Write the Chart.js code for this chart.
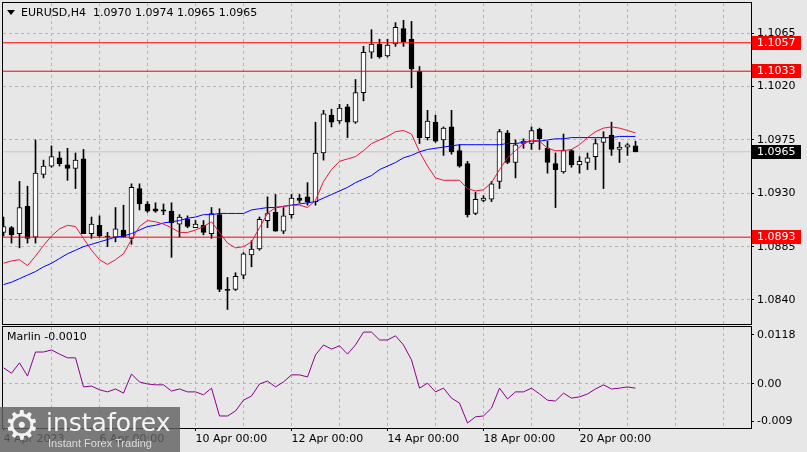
<!DOCTYPE html>
<html><head><meta charset="utf-8">
<script src="https://cdn.jsdelivr.net/npm/chart.js@4.4.0/dist/chart.umd.min.js"></script>
<style>
html,body{margin:0;padding:0;background:#e7e7e7;}
#wrap{position:relative;width:807px;height:452px;overflow:hidden;background:#e7e7e7;font-family:"DejaVu Sans",sans-serif;}
canvas{position:absolute;left:0;}
#c1{top:0;}
#c2{top:326px;}
#title{position:absolute;left:21px;top:6px;font-size:11px;line-height:13px;color:#000;white-space:pre;}
#tri{position:absolute;left:7px;top:10px;width:0;height:0;border-left:4px solid transparent;border-right:4px solid transparent;border-top:5px solid #000;}
#mlabel{position:absolute;left:7px;top:330px;font-size:11px;line-height:13px;color:#000;white-space:pre;}
#wm{position:absolute;left:0;top:407px;width:180px;height:45px;background:rgba(98,98,98,0.82);}
#wmGear{position:absolute;left:4px;top:-4px;font-size:40px;line-height:44px;color:#f2f2f2;}
#wmName{position:absolute;left:46px;top:1px;font-size:25px;line-height:30px;color:#f4f4f4;letter-spacing:0px;}
#wmSub{position:absolute;left:48px;top:30px;font-family:"Liberation Sans",sans-serif;font-size:11px;line-height:13px;color:#dcdcdc;}
</style></head>
<body>
<div id="wrap">
  <canvas id="c1" width="807" height="326"></canvas>
  <canvas id="c2" width="807" height="126"></canvas>
  <div id="tri"></div>
  <div id="title"></div>
  <div id="mlabel"></div>
  <div id="wm"><div id="wmGear">⚙</div><div id="wmName">instaforex</div><div id="wmSub">Instant Forex Trading</div></div>
</div>
<script>
// ---------- data ----------
const symbol = "EURUSD,H4";
const opens = [1.0897,1.0901,1.0896,1.0919,1.0893,1.0946,1.0953,1.0960,1.0954,1.0951,
1.0959,1.0896,1.0903,1.0894,1.0893,1.0899,1.0892,1.0934,1.0921,1.0917,
1.0916,1.0915,1.0904,1.0908,1.0901,1.0903,1.0896,1.0912,1.0849,1.0849,
1.0861,1.0878,1.0883,1.0907,1.0914,1.0898,1.0912,1.0926,1.0927,1.0923,
1.0964,1.0996,1.0991,1.1003,1.0990,1.1015,1.1049,1.1056,1.1046,1.1056,
1.1069,1.1060,1.1033,1.0977,1.0990,1.0975,1.0986,1.0966,1.0955,1.0913,
1.0924,1.0925,1.0940,1.0981,1.0956,1.0972,1.0972,1.0984,1.0968,1.0955,
1.0948,1.0966,1.0954,1.0956,1.0961,1.0973,1.0979,1.0967,1.0969,1.0970];
const highs = [1.0910,1.0902,1.0940,1.0936,1.0975,1.0958,1.0970,1.0965,1.0968,1.0964,
1.0967,1.0910,1.0911,1.0897,1.0918,1.0920,1.0938,1.0938,1.0923,1.0922,
1.0921,1.0922,1.0912,1.0911,1.0907,1.0907,1.0918,1.0917,1.0859,1.0863,
1.0880,1.0890,1.0910,1.0927,1.0929,1.0918,1.0929,1.0929,1.0939,1.0990,
1.1000,1.1001,1.1005,1.1005,1.1026,1.1054,1.1068,1.1060,1.1060,1.1074,
1.1076,1.1075,1.1037,1.1000,1.0996,1.0986,1.1000,1.0971,1.0957,1.0931,
1.0928,1.0940,1.0984,1.0983,1.0975,1.0976,1.0986,1.0985,1.0974,1.0964,
1.0980,1.0967,1.0961,1.0964,1.0976,1.0982,1.0990,1.0973,1.0972,1.0974];
const lows = [1.0894,1.0888,1.0884,1.0888,1.0888,1.0943,1.0952,1.0953,1.0941,1.0934,
1.0896,1.0892,1.0893,1.0885,1.0889,1.0893,1.0887,1.0916,1.0914,1.0914,
1.0912,1.0876,1.0893,1.0901,1.0901,1.0895,1.0892,1.0847,1.0832,1.0848,
1.0858,1.0868,1.0882,1.0901,1.0898,1.0896,1.0909,1.0922,1.0920,1.0920,
1.0958,1.0986,1.0989,1.0977,1.0989,1.1008,1.1044,1.1044,1.1045,1.1054,
1.1054,1.1019,1.0972,1.0975,1.0973,1.0962,1.0963,1.0952,1.0910,1.0912,
1.0923,1.0923,1.0934,1.0955,1.0943,1.0968,1.0967,1.0967,1.0947,1.0918,
1.0947,1.0952,1.0947,1.0950,1.0950,1.0934,1.0962,1.0956,1.0962,1.0965];
const closes = [1.0902,1.0895,1.0918,1.0892,1.0947,1.0953,1.0961,1.0955,1.0951,1.0958,
1.0896,1.0904,1.0894,1.0893,1.0900,1.0893,1.0935,1.0921,1.0915,1.0915,
1.0915,1.0905,1.0910,1.0902,1.0904,1.0897,1.0913,1.0849,1.0848,1.0860,
1.0879,1.0883,1.0908,1.0913,1.0898,1.0911,1.0926,1.0924,1.0923,1.0964,
1.0997,1.0990,1.1002,1.0990,1.1015,1.1049,1.1056,1.1045,1.1055,1.1070,
1.1058,1.1035,1.0977,1.0991,1.0974,1.0985,1.0965,1.0953,1.0912,1.0925,
1.0926,1.0938,1.0982,1.0956,1.0971,1.0974,1.0983,1.0976,1.0956,1.0950,
1.0966,1.0954,1.0957,1.0960,1.0972,1.0977,1.0967,1.0969,1.0971,1.0965];
const maFast = [1.0871,1.0873,1.0874,1.0869,1.0877,1.0886,1.0894,1.0900,1.0903,1.0902,
1.0892,1.0882,1.0874,1.0870,1.0874,1.0879,1.0891,1.0902,1.0907,1.0906,
1.0904,1.0901,1.0897,1.0897,1.0899,1.0902,1.0906,1.0897,1.0888,1.0884,
1.0885,1.0889,1.0901,1.0913,1.0918,1.0919,1.0920,1.0920,1.0918,1.0924,
1.0940,1.0950,1.0957,1.0959,1.0961,1.0966,1.0972,1.0975,1.0978,1.0982,
1.0983,1.0980,1.0965,1.0953,1.0943,1.0941,1.0941,1.0941,1.0934,1.0932,
1.0933,1.0939,1.0950,1.0960,1.0966,1.0972,1.0975,1.0974,1.0968,1.0966,
1.0966,1.0967,1.0971,1.0977,1.0982,1.0985,1.0986,1.0985,1.0983,1.0981];
const maSlow = [1.0853,1.0855,1.0858,1.0861,1.0864,1.0868,1.0871,1.0875,1.0879,1.0882,
1.0885,1.0887,1.0889,1.0891,1.0893,1.0894,1.0896,1.0899,1.0902,1.0903,
1.0905,1.0906,1.0907,1.0909,1.0910,1.0912,1.0912,1.0913,1.0913,1.0913,
1.0913,1.0916,1.0917,1.0918,1.0918,1.0919,1.0920,1.0921,1.0922,1.0923,
1.0926,1.0929,1.0932,1.0935,1.0939,1.0942,1.0945,1.0950,1.0953,1.0956,
1.0960,1.0962,1.0965,1.0967,1.0968,1.0969,1.0970,1.0971,1.0971,1.0971,
1.0971,1.0971,1.0971,1.0972,1.0972,1.0973,1.0974,1.0974,1.0975,1.0976,
1.0976,1.0977,1.0977,1.0977,1.0977,1.0977,1.0977,1.0978,1.0978,1.0978];
const marlin = [0.0039,0.0026,0.0051,0.0019,0.0077,0.0077,0.0082,0.0072,0.0063,0.0063,
-0.0007,-0.0005,-0.0014,-0.0019,-0.0012,-0.0022,0.0024,0.0005,0.0000,-0.0002,
-0.0002,-0.0017,-0.0012,-0.0019,-0.0019,-0.0026,-0.0010,-0.0077,-0.0077,-0.0065,
-0.0039,-0.0029,0.0000,0.0007,-0.0007,0.0005,0.0022,0.0022,0.0017,0.0070,
0.0094,0.0084,0.0092,0.0072,0.0094,0.0125,0.0125,0.0106,0.0106,0.0116,
0.0094,0.0058,-0.0010,0.0002,-0.0019,-0.0010,-0.0034,-0.0046,-0.0094,-0.0079,
-0.0077,-0.0058,-0.0010,-0.0036,-0.0019,-0.0019,-0.0010,-0.0024,-0.0039,-0.0041,
-0.0022,-0.0034,-0.0031,-0.0024,-0.0012,-0.0002,-0.0012,-0.0010,-0.0007,-0.0010];
const levels = [1.1057, 1.1033, 1.0893];
const bidPrice = 1.0965;
const priceTicks = [1.1065, 1.1020, 1.0975, 1.0930, 1.0885, 1.0840];
const marlinTicks = [0.0118, 0, -0.009];
const marlinTickLabels = ["0.0118", "0.00", "-0.009"];
const timeTickBars = [0, 12, 24, 36, 48, 60, 72];
const timeTickLabels = ["4 Apr 2023", "6 Apr 00:00", "10 Apr 00:00", "12 Apr 00:00", "14 Apr 00:00", "18 Apr 00:00", "20 Apr 00:00"];
const gridBars = [6,12,18,24,30,36,42,48,54,60,66,72,78,84,90];

// ---------- layout constants ----------
const X_MIN = -0.0625, X_MAX = X_MIN + 748 / 8;
const Y_MIN = 1.081975, Y_MAX = 1.109056;
const M_MIN = -0.010595, M_MAX = 0.013725;
const GRID = '#b4b4b4';
const FONT = {family: 'DejaVu Sans', size: 11};

Chart.defaults.font.family = 'DejaVu Sans';
Chart.defaults.font.size = 11;
Chart.defaults.color = '#000';

const n = closes.length;
const last = n - 1;
document.getElementById('title').textContent =
  symbol + "  " + [opens[last], highs[last], lows[last], closes[last]].map(v => v.toFixed(4)).join(' ');
document.getElementById('mlabel').textContent = "Marlin " + marlin[last].toFixed(4);

const idx = Array.from({length: n}, (_, i) => i);
const bodyColors = idx.map(i => closes[i] >= opens[i] ? '#ffffff' : '#000000');

const framePlugin = {
  id: 'frame',
  afterDraw(chart) {
    const {ctx, chartArea: a} = chart;
    ctx.save();
    ctx.strokeStyle = '#000';
    ctx.lineWidth = 1;
    ctx.strokeRect(a.left - 0.5, a.top - 0.5, a.right - a.left + 1, a.bottom - a.top + 1);
    ctx.restore();
  }
};

const boxPlugin = {
  id: 'priceBoxes',
  afterDraw(chart) {
    const {ctx} = chart;
    const ys = chart.scales.y;
    const boxes = levels.map(v => ({v, bg: '#ff0000'})).concat([{v: bidPrice, bg: '#000000'}]);
    ctx.save();
    ctx.font = '11px "DejaVu Sans"';
    ctx.textBaseline = 'middle';
    ctx.textAlign = 'left';
    boxes.forEach(b => {
      const y = Math.round(ys.getPixelForValue(b.v));
      ctx.fillStyle = b.bg;
      ctx.fillRect(752, y - 7, 49, 14);
      ctx.fillStyle = '#ffffff';
      ctx.fillText(b.v.toFixed(4), 757, y + 0.5);
    });
    ctx.restore();
  }
};

function zeroPad(s) { s.paddingTop = 0; s.paddingBottom = 0; s.paddingLeft = 0; s.paddingRight = 0; }

const levelSets = levels.map(l => ({
  type: 'line', data: [{x: X_MIN, y: l}, {x: X_MAX, y: l}],
  borderColor: '#ff0000', borderWidth: 1, pointRadius: 0, order: 2
}));

new Chart(document.getElementById('c1'), {
  type: 'bar',
  data: {datasets: [
    {type: 'line', data: idx.map(i => ({x: i, y: maFast[i]})), borderColor: '#e5173f', borderWidth: 1, pointRadius: 0, tension: 0, order: 1},
    {type: 'line', data: idx.map(i => ({x: i, y: maSlow[i]})), borderColor: '#0000ff', borderWidth: 1, pointRadius: 0, tension: 0, order: 1},
    ...levelSets,
    {type: 'bar', data: idx.map(i => ({x: i, y: [opens[i], closes[i]]})), backgroundColor: bodyColors,
     borderColor: '#000000', borderWidth: 1, borderSkipped: false, barThickness: 5, maxBarThickness: 5, grouped: false, order: 3},
    {type: 'bar', data: idx.map(i => ({x: i, y: [lows[i], highs[i]]})), backgroundColor: '#000000',
     borderWidth: 0, barThickness: 1, maxBarThickness: 1, grouped: false, order: 4},
    {type: 'line', data: [{x: X_MIN, y: bidPrice}, {x: X_MAX, y: bidPrice}], borderColor: '#c4c4c4', borderWidth: 1, pointRadius: 0, order: 5}
  ]},
  options: {
    responsive: false, animation: false, devicePixelRatio: 1,
    layout: {padding: {left: 3, top: 3, bottom: 2, right: 0}},
    plugins: {legend: {display: false}, tooltip: {enabled: false}},
    scales: {
      x: {type: 'linear', min: X_MIN, max: X_MAX, bounds: 'data', offset: false,
          grid: {offset: false, color: GRID, drawTicks: false, lineWidth: 1},
          border: {display: false, dash: [3, 3]},
          ticks: {display: false},
          afterBuildTicks: s => { s.ticks = gridBars.map(v => ({value: v})); },
          afterFit: s => { s.height = 0; zeroPad(s); }},
      y: {type: 'linear', position: 'right', min: Y_MIN, max: Y_MAX, bounds: 'data',
          grid: {color: GRID, lineWidth: 1, tickLength: 3, tickColor: '#000', tickBorderDash: [], tickWidth: 1},
          border: {display: false, dash: [3, 3]},
          ticks: {font: FONT, color: '#000', padding: 3, autoSkip: false, callback: v => Number(v).toFixed(4)},
          afterBuildTicks: s => { s.ticks = priceTicks.map(v => ({value: v})); },
          afterFit: s => { s.width = 56; zeroPad(s); }}
    }
  },
  plugins: [framePlugin, boxPlugin]
});

new Chart(document.getElementById('c2'), {
  type: 'line',
  data: {datasets: [
    {data: idx.map(i => ({x: i, y: marlin[i]})), borderColor: '#8b008b', borderWidth: 1, pointRadius: 0, tension: 0}
  ]},
  options: {
    responsive: false, animation: false, devicePixelRatio: 1,
    layout: {padding: {left: 3, top: 1, bottom: 0, right: 0}},
    plugins: {legend: {display: false}, tooltip: {enabled: false}},
    scales: {
      x: {type: 'linear', min: X_MIN, max: X_MAX, bounds: 'data', offset: false,
          grid: {offset: false, lineWidth: 1, tickLength: 3, tickWidth: 1, tickBorderDash: [],
                 color: c => (c.tick && c.tick.value > 0) ? GRID : 'rgba(0,0,0,0)',
                 tickColor: c => (c.tick && timeTickBars.includes(c.tick.value)) ? '#000' : 'rgba(0,0,0,0)'},
          border: {display: false, dash: [3, 3]},
          ticks: {font: FONT, color: '#000', padding: 2, align: 'start', autoSkip: false, maxRotation: 0, minRotation: 0,
                  callback: v => { const k = timeTickBars.indexOf(v); return k >= 0 ? timeTickLabels[k] : ''; }},
          afterBuildTicks: s => { s.ticks = [0].concat(gridBars).map(v => ({value: v})); },
          afterFit: s => { s.height = 24; zeroPad(s); }},
      y: {type: 'linear', position: 'right', min: M_MIN, max: M_MAX, bounds: 'data',
          grid: {lineWidth: 1, tickLength: 3, tickColor: '#000', tickBorderDash: [], tickWidth: 1,
                 color: c => (c.tick && c.tick.value === 0) ? GRID : 'rgba(0,0,0,0)'},
          border: {display: false, dash: [3, 3]},
          ticks: {font: FONT, color: '#000', padding: 3, autoSkip: false,
                  callback: v => { const k = marlinTicks.indexOf(v); return k >= 0 ? marlinTickLabels[k] : ''; }},
          afterBuildTicks: s => { s.ticks = marlinTicks.map(v => ({value: v})); },
          afterFit: s => { s.width = 56; zeroPad(s); }}
    }
  },
  plugins: [framePlugin]
});
</script>
</body></html>
